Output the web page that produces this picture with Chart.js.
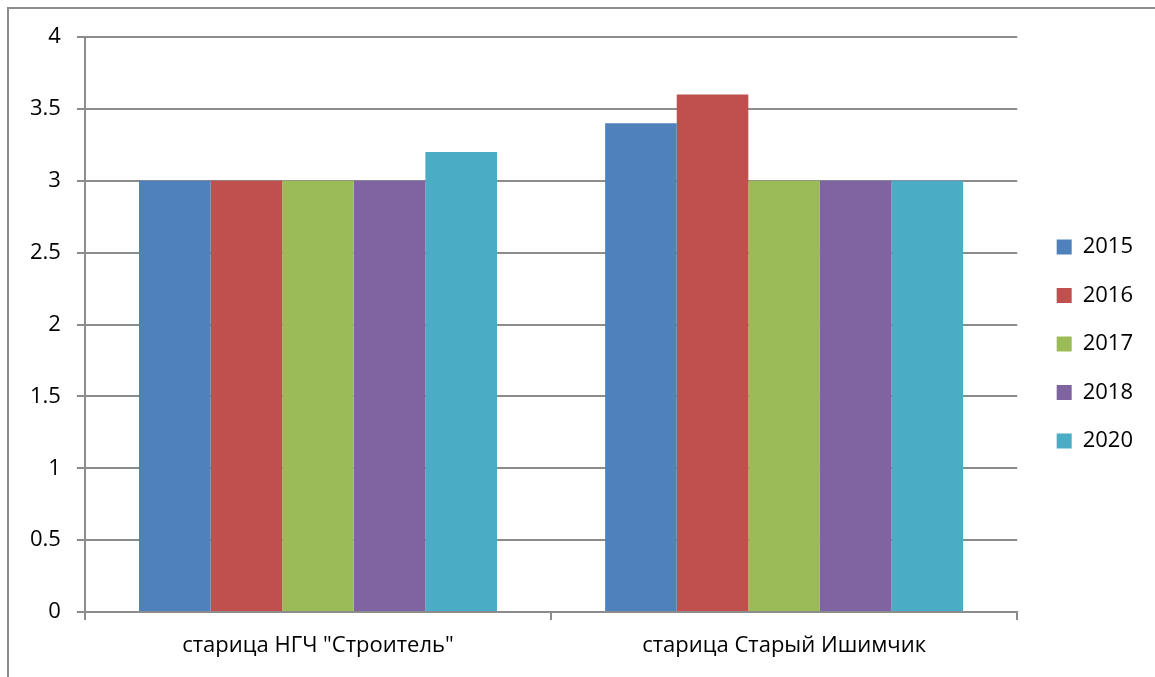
<!DOCTYPE html>
<html>
<head>
<meta charset="utf-8">
<script src="https://cdn.jsdelivr.net/npm/chart.js@4"></script>
<style>
html,body{margin:0;padding:0;background:#fff;overflow:hidden;}
#frame{position:absolute;left:7px;top:7px;width:1300px;height:800px;border-left:2px solid #8c8c8c;border-top:2px solid #8c8c8c;box-sizing:border-box;}
#wrap{position:absolute;left:0;top:0;width:1155px;height:677px;}
</style>
</head>
<body>
<div id="frame"></div>
<div id="wrap"><canvas id="c" width="1155" height="677"></canvas></div>
<script>
const categories = ['старица НГЧ "Строитель"', 'старица Старый Ишимчик'];
const seriesNames = ['2015', '2016', '2017', '2018', '2020'];
const v2015 = [3, 3.4];
const v2016 = [3, 3.6];
const v2017 = [3, 3];
const v2018 = [3, 3];
const v2020 = [3.2, 3];
const colors = ['#4F81BD', '#C0504D', '#9BBB59', '#8064A2', '#4BACC6'];
const allValues = [v2015, v2016, v2017, v2018, v2020];

const FONT = "'Open Sans', 'Liberation Sans', Arial, sans-serif";
const GRID = '#8c8c8c';

new Chart(document.getElementById('c'), {
  type: 'bar',
  data: {
    labels: categories,
    datasets: seriesNames.map((n, i) => ({
      label: n,
      data: allValues[i],
      backgroundColor: colors[i],
      borderWidth: 0,
      barPercentage: 1,
      categoryPercentage: 0.768
    }))
  },
  options: {
    responsive: false,
    animation: false,
    devicePixelRatio: 1,
    layout: { padding: { left: 14, top: 26, right: 12, bottom: 15 } },
    plugins: {
      tooltip: { enabled: false },
      legend: {
        position: 'right',
        labels: {
          font: { family: FONT, size: 22 },
          color: '#000',
          boxWidth: 15,
          boxHeight: 15,
          padding: 26.5
        }
      }
    },
    scales: {
      x: {
        grid: { drawOnChartArea: false, color: GRID, lineWidth: 2, tickLength: 8, offset: true },
        border: { color: GRID, width: 2 },
        ticks: { font: { family: FONT, size: 22 }, color: '#000', padding: 13 },
        afterFit: s => { s.height = 50; }
      },
      xT: {
        type: 'category',
        position: 'top',
        display: true,
        grid: { display: false },
        border: { display: false },
        ticks: { display: false },
        afterFit: s => { s.height = 11; }
      },
      y: {
        min: 0, max: 4,
        grid: { color: GRID, lineWidth: 2, tickLength: 8 },
        border: { color: GRID, width: 2 },
        ticks: { stepSize: 0.5, font: { family: FONT, size: 22 }, color: '#000', padding: 16,
          callback: v => String(v) }
      },
      yR: {
        position: 'right',
        display: true,
        grid: { display: false },
        border: { display: false },
        ticks: { display: false },
        afterFit: s => { s.width = 13; }
      }
    }
  }
});
</script>
</body>
</html>
